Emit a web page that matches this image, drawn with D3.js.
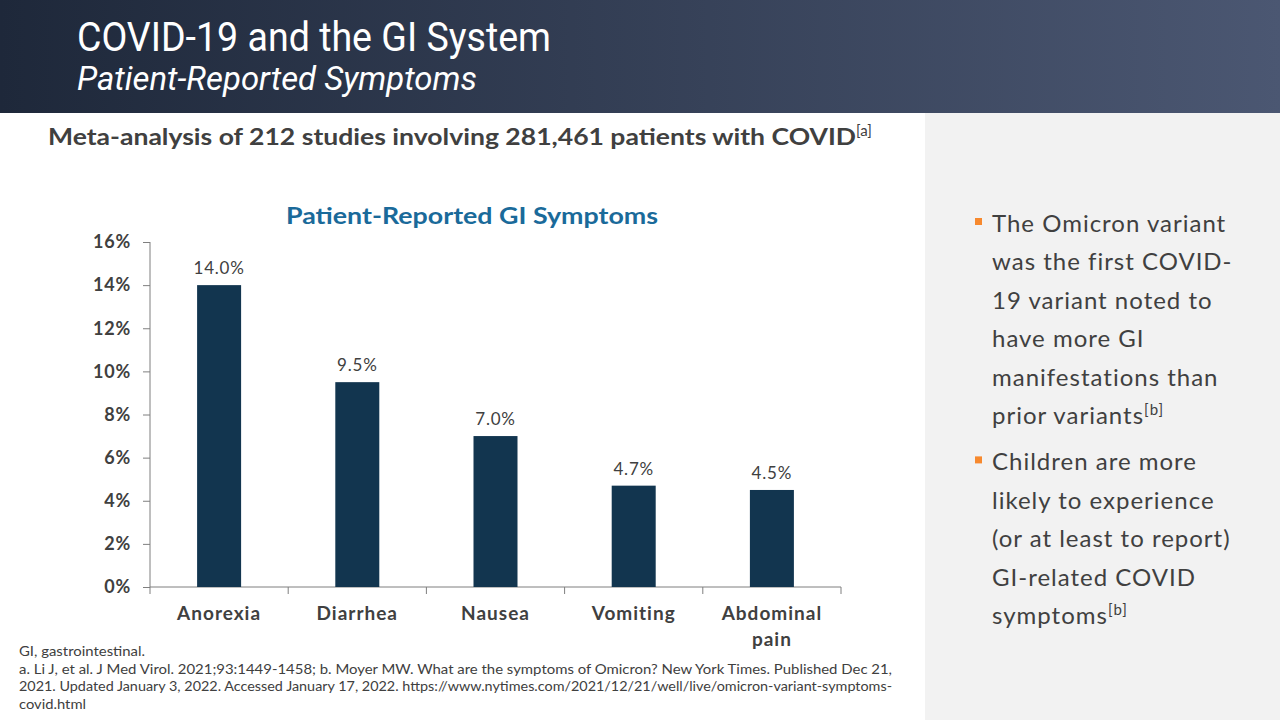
<!DOCTYPE html>
<html>
<head>
<meta charset="utf-8">
<script src="https://cdn.jsdelivr.net/npm/d3@7"></script>
<style>
  body { margin: 0; background: #fff; }
  svg { display: block; }
</style>
</head>
<body>
<div id="chart"></div>
<script>
var categories = ['Anorexia', 'Diarrhea', 'Nausea', 'Vomiting', 'Abdominal pain'];
var values = [14.0, 9.5, 7.0, 4.7, 4.5];
var yTicks = [0, 2, 4, 6, 8, 10, 12, 14, 16];

var bullets = [
	['The Omicron variant', 'was the first COVID-', '19 variant noted to', 'have more GI', 'manifestations than', 'prior variants|b'],
	['Children are more', 'likely to experience', '(or at least to report)', 'GI-related COVID', 'symptoms|b']
];
var footnotes = [
	'GI, gastrointestinal.',
	'a. Li J, et al. J Med Virol. 2021;93:1449-1458; b. Moyer MW. What are the symptoms of Omicron? New York Times. Published Dec 21,',
	'2021. Updated January 3, 2022. Accessed January 17, 2022. https://www.nytimes.com/2021/12/21/well/live/omicron-variant-symptoms-',
	'covid.html'
];
var footWidths = [126, 873, 873, 67];

var W = 1280, H = 720;
var svg = d3.select('#chart').append('svg').attr('width', W).attr('height', H);

// header
var grad = svg.append('defs').append('linearGradient').attr('id', 'hdr');
grad.append('stop').attr('offset', '0%').attr('stop-color', '#1e283a');
grad.append('stop').attr('offset', '100%').attr('stop-color', '#4b5772');
svg.append('rect').attr('width', W).attr('height', 113).attr('fill', 'url(#hdr)');
svg.append('text').attr('x', 77).attr('y', 51)
	.attr('textLength', 474).attr('lengthAdjust', 'spacingAndGlyphs')
	.style('font', '41px Roboto').style('fill', '#fff')
	.text('COVID-19 and the GI System');
svg.append('text').attr('x', 77).attr('y', 90)
	.attr('textLength', 400).attr('lengthAdjust', 'spacingAndGlyphs')
	.style('font', 'italic 34px Roboto').style('fill', '#fff')
	.text('Patient-Reported Symptoms');

// right panel
svg.append('rect').attr('x', 925).attr('y', 113).attr('width', W - 925).attr('height', H - 113).attr('fill', '#f2f2f2');

var lineH = 38.4, by = 232;
bullets.forEach(function(b) {
	svg.append('rect').attr('x', 975).attr('y', by - 14).attr('width', 7).attr('height', 7).attr('fill', '#f7892e');
	b.forEach(function(line) {
		var parts = line.split('|');
		var t = svg.append('text').attr('x', 992).attr('y', by)
			.style('font', '24px Lato').style('fill', '#404040').style('letter-spacing', '1px');
		t.append('tspan').text(parts[0]);
		if (parts[1]) t.append('tspan').attr('dy', -9).style('font-size', '15px').text('[' + parts[1] + ']');
		by += lineH;
	});
	by += 8;
});

// subheading
var sub = svg.append('text').attr('x', 48).attr('y', 145)
	.style('font', 'bold 23px Lato').style('fill', '#404040');
sub.append('tspan').attr('textLength', 808).attr('lengthAdjust', 'spacingAndGlyphs')
	.text('Meta-analysis of 212 studies involving 281,461 patients with COVID');
sub.append('tspan').attr('dy', -9).style('font-size', '15px').style('font-weight', 'normal').text('[a]');

svg.append('text').attr('x', 472).attr('y', 224).attr('text-anchor', 'middle')
	.attr('textLength', 372).attr('lengthAdjust', 'spacingAndGlyphs')
	.style('font', 'bold 22px Lato').style('fill', '#1a6a9a')
	.text('Patient-Reported GI Symptoms');

// chart
var x0 = 150, x1 = 841, y0 = 587, y1 = 242;
var x = d3.scaleBand().domain(categories).range([x0, x1]).padding(0);
var y = d3.scaleLinear().domain([0, 16]).range([y0, y1]);
var barW = 44;

var g = svg.append('g');
var yAxis = g.append('g').attr('transform', 'translate(' + x0 + ',0)')
	.call(d3.axisLeft(y).tickValues(yTicks).tickSize(7).tickPadding(12).tickFormat(function(d) { return d + '%'; }));
yAxis.selectAll('path, line').attr('stroke', '#7f7f7f');
yAxis.select('.domain').attr('d', 'M0,' + y1 + 'V' + y0);
yAxis.selectAll('text').style('font', 'bold 18px Lato').style('fill', '#404040').style('letter-spacing', '0.8px');

var xAxis = g.append('g').attr('transform', 'translate(0,' + y0 + ')');
xAxis.append('line').attr('x1', x0).attr('x2', x1).attr('stroke', '#7f7f7f');
var bounds = categories.map(function(c) { return x(c); }).concat([x1]);
xAxis.selectAll('line.tk').data(bounds).enter().append('line').attr('class', 'tk')
	.attr('x1', function(d) { return d; }).attr('x2', function(d) { return d; })
	.attr('y1', 0).attr('y2', 7).attr('stroke', '#7f7f7f');

g.selectAll('rect.bar').data(values).enter().append('rect').attr('class', 'bar')
	.attr('x', function(d, i) { return x(categories[i]) + x.bandwidth() / 2 - barW / 2; })
	.attr('y', function(d) { return y(d); })
	.attr('width', barW)
	.attr('height', function(d) { return y0 - y(d); })
	.attr('fill', '#12354f');

g.selectAll('text.val').data(values).enter().append('text').attr('class', 'val')
	.attr('x', function(d, i) { return x(categories[i]) + x.bandwidth() / 2; })
	.attr('y', function(d) { return y(d) - 11; })
	.attr('text-anchor', 'middle')
	.style('font', '17px Lato').style('fill', '#404040').style('letter-spacing', '0.8px')
	.text(function(d) { return d.toFixed(1) + '%'; });

categories.forEach(function(c) {
	var words = c === 'Abdominal pain' ? ['Abdominal', 'pain'] : [c];
	words.forEach(function(w, j) {
		svg.append('text').attr('x', x(c) + x.bandwidth() / 2).attr('y', 620 + j * 26)
			.attr('text-anchor', 'middle')
			.style('font', 'bold 19px Lato').style('fill', '#404040').style('letter-spacing', '1px').text(w);
	});
});

// footnotes
footnotes.forEach(function(f, i) {
	svg.append('text').attr('x', 19).attr('y', 656 + i * 17.5)
		.attr('textLength', footWidths[i]).attr('lengthAdjust', 'spacingAndGlyphs')
		.style('font', '13.5px Lato').style('fill', '#404040').text(f);
});
</script>
</body>
</html>
